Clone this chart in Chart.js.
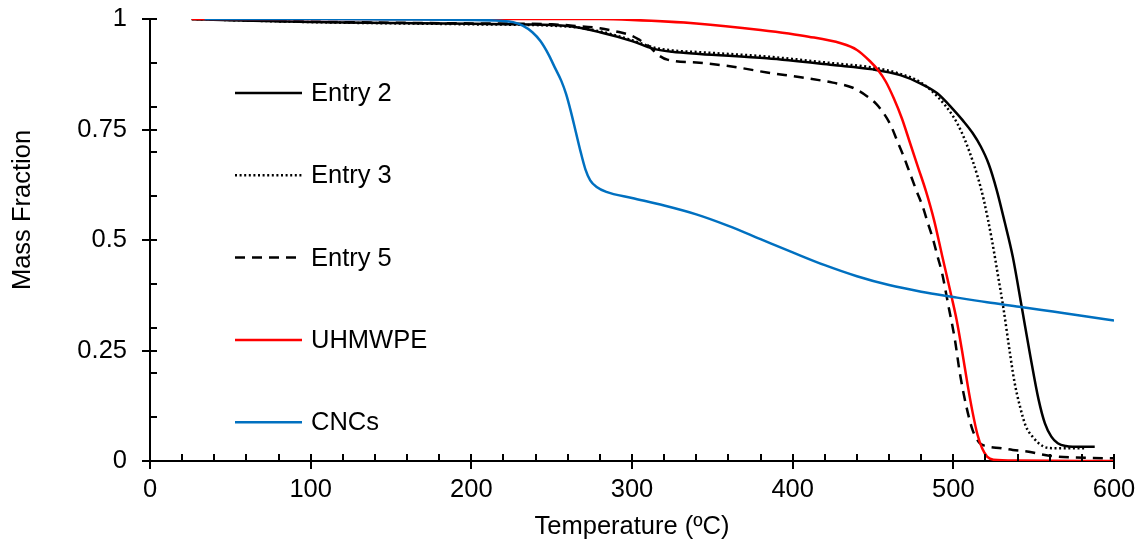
<!DOCTYPE html>
<html><head><meta charset="utf-8">
<script src="https://cdn.jsdelivr.net/npm/chart.js@4.4.1/dist/chart.umd.min.js"></script>
<style>html,body{margin:0;padding:0;background:#fff}</style>
</head><body>
<canvas id="c" width="1144" height="550" style="display:block;width:1144px;height:550px"></canvas>
<script>
// ---- data ----
const seriesLabels = ["Entry 2", "Entry 3", "Entry 5", "UHMWPE", "CNCs"];
const xTickLabels = ["0", "100", "200", "300", "400", "500", "600"];
const yTickLabels = ["0", "0.25", "0.5", "0.75", "1"];

const entry2T = [26, 50, 100, 150, 200, 230, 260, 280, 300, 313, 325, 342, 384, 425, 450, 467, 479, 490, 500, 506, 512, 517, 522, 527, 532, 537, 542.5, 548, 553, 557, 561, 565, 570, 580, 588];
const entry2M = [1.0, 0.997, 0.993, 0.991, 0.989, 0.988, 0.984, 0.970, 0.950, 0.933, 0.926, 0.921, 0.911, 0.896, 0.886, 0.873, 0.855, 0.832, 0.795, 0.770, 0.742, 0.712, 0.672, 0.613, 0.540, 0.462, 0.350, 0.236, 0.140, 0.085, 0.055, 0.040, 0.034, 0.032, 0.032];

const entry3T = [26, 100, 200, 260, 280, 300, 313, 325, 342, 384, 425, 450, 465, 479, 490, 500, 505, 510, 515, 519, 524, 528, 531, 535, 538, 541.5, 545, 550, 556, 562, 583];
const entry3M = [1.0, 0.993, 0.988, 0.983, 0.972, 0.952, 0.936, 0.929, 0.925, 0.915, 0.900, 0.890, 0.878, 0.858, 0.825, 0.779, 0.745, 0.700, 0.645, 0.590, 0.500, 0.415, 0.350, 0.250, 0.180, 0.123, 0.080, 0.052, 0.033, 0.029, 0.029];

const entry5T = [26, 100, 200, 250, 263, 280, 290, 300, 305, 310, 317, 322, 342, 363, 384, 405, 425, 437, 446, 452, 457, 461, 465, 469, 473, 477, 481, 484, 487.5, 490, 493, 497, 501, 504, 508, 512, 516, 520, 530, 537, 547, 555, 562, 575, 600];
const entry5M = [1.0, 0.994, 0.990, 0.988, 0.985, 0.979, 0.972, 0.962, 0.952, 0.940, 0.917, 0.908, 0.901, 0.892, 0.879, 0.868, 0.856, 0.845, 0.826, 0.808, 0.785, 0.760, 0.725, 0.690, 0.651, 0.612, 0.575, 0.540, 0.500, 0.465, 0.425, 0.350, 0.274, 0.200, 0.125, 0.070, 0.042, 0.034, 0.029, 0.025, 0.021, 0.015, 0.011, 0.008, 0.006];

const uhmwpeT = [26, 100, 200, 280, 300, 340, 380, 410, 430, 440, 448, 453, 458, 463, 468, 473, 478, 483, 488, 493, 499, 502, 505.4, 509, 512, 515, 518, 521, 525, 540, 600];
const uhmwpeM = [1.0, 1.0, 1.0, 1.0, 0.998, 0.990, 0.975, 0.960, 0.945, 0.930, 0.905, 0.885, 0.858, 0.820, 0.775, 0.720, 0.665, 0.610, 0.545, 0.465, 0.370, 0.320, 0.250, 0.170, 0.110, 0.060, 0.028, 0.010, 0.003, 0.001, 0.0];

const cncT = [34, 100, 150, 200, 218, 226, 232, 238, 243, 248, 252, 256, 259, 262, 265, 268, 271, 274, 278, 284, 300, 320, 340, 360, 380, 400, 420, 440, 460, 480, 500, 521, 541, 562, 583, 600];
const cncM = [1.0, 1.0, 0.999, 0.998, 0.996, 0.993, 0.985, 0.970, 0.950, 0.920, 0.890, 0.860, 0.830, 0.790, 0.745, 0.700, 0.660, 0.635, 0.620, 0.609, 0.595, 0.578, 0.558, 0.532, 0.502, 0.472, 0.443, 0.418, 0.398, 0.383, 0.371, 0.359, 0.349, 0.338, 0.327, 0.318];

// ---- helpers ----
const pts = (t, m) => t.map((v, i) => ({x: v, y: m[i]}));
const FONT = '"Liberation Sans", Arial, Helvetica, sans-serif';
const FS = 25.5;

const decor = {
  id: 'decor',
  afterDraw(chart) {
    const {ctx, chartArea: a} = chart;
    const xs = chart.scales.x, ys = chart.scales.y;
    ctx.save();
    ctx.strokeStyle = '#000';
    ctx.lineWidth = 2;
    ctx.beginPath();
    for (let v = 0; v <= 600; v += 20) {
      const px = Math.round(xs.getPixelForValue(v));
      const major = v % 100 === 0;
      ctx.moveTo(px, a.bottom - 7);
      ctx.lineTo(px, a.bottom + (major ? 8 : 0));
    }
    for (let k = 1; k < 10; k++) {
      if (k === 5) continue;
      const py = Math.round(ys.getPixelForValue(k / 10));
      ctx.moveTo(a.left, py);
      ctx.lineTo(a.left + 7, py);
    }
    for (let v = 0; v <= 1.0001; v += 0.25) {
      const py = Math.round(ys.getPixelForValue(v));
      ctx.moveTo(a.left - 8, py);
      ctx.lineTo(a.left + 7, py);
    }
    ctx.stroke();

    // legend (inside plot, left)
    ctx.font = FS + 'px ' + FONT;
    ctx.textBaseline = 'middle';
    ctx.textAlign = 'left';
    chart.data.datasets.forEach((ds, i) => {
      const yy = 93 + i * 82.3;
      ctx.beginPath();
      ctx.strokeStyle = ds.borderColor;
      ctx.lineWidth = ds.borderWidth;
      ctx.setLineDash(ds.borderDash || []);
      ctx.moveTo(235, yy);
      ctx.lineTo(302, yy);
      ctx.stroke();
      ctx.setLineDash([]);
      ctx.fillStyle = '#000';
      ctx.fillText(ds.label, 311, yy + 1);
    });

    // y axis title
    ctx.translate(23, 210);
    ctx.rotate(-Math.PI / 2);
    ctx.textAlign = 'center';
    ctx.fillStyle = '#000';
    ctx.fillText('Mass Fraction', 0, 0);
    ctx.restore();
  }
};

const common = {pointRadius: 0, fill: false, cubicInterpolationMode: 'monotone', borderWidth: 2.5};

new Chart(document.getElementById('c'), {
  type: 'line',
  data: {
    datasets: [
      Object.assign({label: seriesLabels[0], data: pts(entry2T, entry2M), borderColor: '#000000', order: 5}, common),
      Object.assign({label: seriesLabels[1], data: pts(entry3T, entry3M), borderColor: '#000000', borderDash: [2, 2.6], order: 4}, common),
      Object.assign({label: seriesLabels[2], data: pts(entry5T, entry5M), borderColor: '#000000', borderDash: [10, 7], order: 3}, common),
      Object.assign({label: seriesLabels[3], data: pts(uhmwpeT, uhmwpeM), borderColor: '#FF0000', order: 2}, common),
      Object.assign({label: seriesLabels[4], data: pts(cncT, cncM), borderColor: '#0070C0', order: 1}, common)
    ]
  },
  options: {
    responsive: false,
    animation: false,
    devicePixelRatio: 1,
    layout: {padding: {top: 19, right: 30, left: 0, bottom: 0}},
    plugins: {legend: {display: false}, tooltip: {enabled: false}},
    scales: {
      x: {
        type: 'linear', min: 0, max: 600,
        afterFit: s => { s.height = 89; s.paddingLeft = 0; s.paddingRight = 0; },
        afterBuildTicks: s => { s.ticks = xTickLabels.map(t => ({value: Number(t)})); },
        ticks: {color: '#000', font: {family: FONT, size: FS}, padding: 14, maxRotation: 0,
                callback: (v) => xTickLabels[xTickLabels.indexOf(String(v))] ?? ''},
        grid: {display: false, drawTicks: false},
        border: {display: true, color: '#000', width: 2},
        title: {display: true, text: 'Temperature (ºC)', color: '#000', font: {family: FONT, size: FS}, padding: {top: 0, bottom: 8}}
      },
      y: {
        type: 'linear', min: 0, max: 1,
        afterFit: s => { s.width = 150; s.paddingTop = 0; s.paddingBottom = 0; },
        afterBuildTicks: s => { s.ticks = yTickLabels.map(t => ({value: Number(t)})); },
        ticks: {color: '#000', font: {family: FONT, size: FS}, padding: 23,
                callback: (v) => yTickLabels[yTickLabels.map(Number).indexOf(v)] ?? ''},
        grid: {display: false, drawTicks: false},
        border: {display: true, color: '#000', width: 2}
      }
    }
  },
  plugins: [decor]
});
</script>
</body></html>
